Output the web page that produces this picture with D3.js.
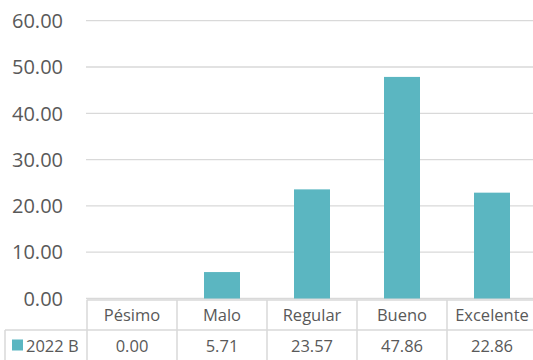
<!DOCTYPE html>
<html>
<head>
<meta charset="utf-8">
<script src="https://cdn.jsdelivr.net/npm/d3@7"></script>
<style>
  html, body { margin: 0; padding: 0; background: #fff; }
  svg { display: block; font-family: "Open Sans", "Liberation Sans", sans-serif; }
</style>
</head>
<body>
<svg id="chart" width="533" height="360"></svg>
<script>
const categories = ["Pésimo", "Malo", "Regular", "Bueno", "Excelente"];
const seriesName = "2022 B";
const values = [0.00, 5.71, 23.57, 47.86, 22.86];
const yTicks = [0, 10, 20, 30, 40, 50, 60];

const svg = d3.select("#chart");
const textColor = "#595959";
const gridColor = "#d9d9d9";
const barColor = "#5bb6c1";

const x = d3.scaleBand().domain(categories).range([87, 537]).paddingInner(0.6).paddingOuter(0.3);
const y = d3.scaleLinear().domain([0, 60]).range([298.5, 20.7]);
const fmt = d3.format(".2f");

// gridlines
svg.append("g").selectAll("line").data(yTicks).join("line")
  .attr("x1", 86).attr("x2", 537)
  .attr("y1", d => y(d)).attr("y2", d => y(d))
  .attr("stroke", gridColor).attr("stroke-width", 1.3);

// y labels
svg.append("g").selectAll("text").data(yTicks).join("text")
  .attr("x", 63).attr("y", d => y(d))
  .attr("dy", "0.36em")
  .attr("text-anchor", "end")
  .attr("fill", textColor)
  .attr("font-size", 20)
  .text(d => fmt(d));

// bars
svg.append("g").selectAll("rect").data(values).join("rect")
  .attr("x", (d, i) => x(categories[i]))
  .attr("width", x.bandwidth())
  .attr("y", d => y(d))
  .attr("height", d => y(0) - y(d))
  .attr("fill", barColor);

// data table
const step = x.step();
const tableTop = 300, rowH = 30;
const colEdges = categories.map(c => x(c) - (step - x.bandwidth()) / 2);
colEdges.push(colEdges[colEdges.length - 1] + step);
const tbl = svg.append("g").attr("stroke", gridColor).attr("stroke-width", 1.5);
tbl.append("line").attr("x1", colEdges[0]).attr("x2", 540).attr("y1", tableTop).attr("y2", tableTop);
tbl.append("line").attr("x1", 5).attr("x2", 540).attr("y1", tableTop + rowH).attr("y2", tableTop + rowH);
tbl.append("line").attr("x1", 5).attr("x2", 5).attr("y1", tableTop + rowH).attr("y2", 362);
tbl.selectAll("line.col").data(colEdges).join("line").attr("class", "col")
  .attr("x1", d => d).attr("x2", d => d).attr("y1", tableTop).attr("y2", 362);

svg.append("g").selectAll("text").data(categories).join("text")
  .attr("x", c => x(c) + x.bandwidth() / 2)
  .attr("y", tableTop + 21)
  .attr("text-anchor", "middle")
  .attr("fill", textColor)
  .attr("font-size", 16.5)
  .text(c => c);

svg.append("g").selectAll("text").data(values).join("text")
  .attr("x", (d, i) => x(categories[i]) + x.bandwidth() / 2)
  .attr("y", tableTop + rowH + 22)
  .attr("text-anchor", "middle")
  .attr("fill", textColor)
  .attr("font-size", 16.5)
  .text(d => fmt(d));

// legend key
svg.append("rect").attr("x", 12).attr("y", 339.5).attr("width", 11).attr("height", 11).attr("fill", barColor);
svg.append("text").attr("x", 26).attr("y", tableTop + rowH + 22)
  .attr("fill", textColor).attr("font-size", 16.5).text(seriesName);
</script>
</body>
</html>
